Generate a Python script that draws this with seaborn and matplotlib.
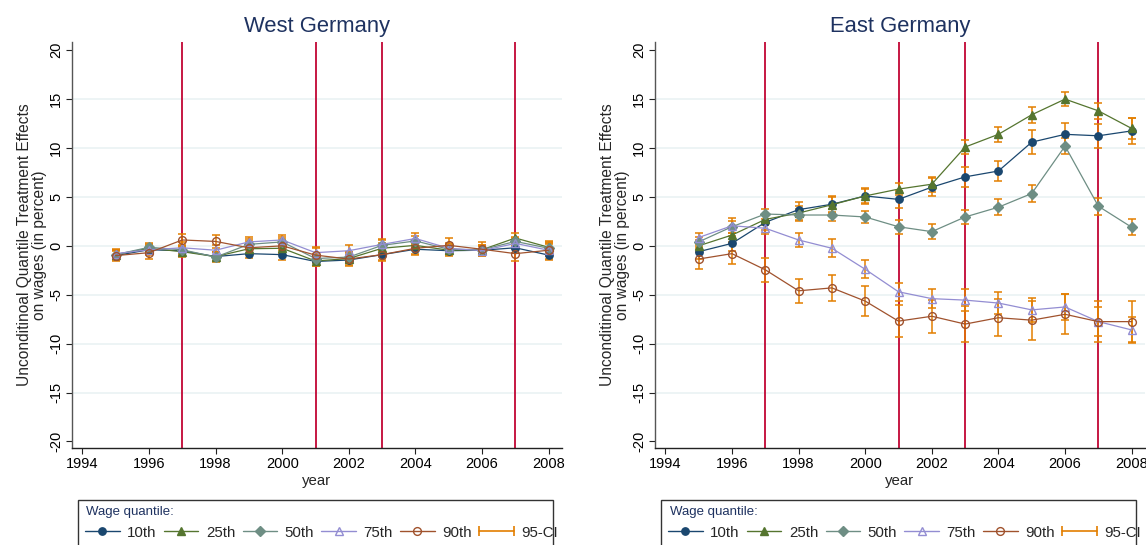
import matplotlib
matplotlib.use("Agg")
import matplotlib.pyplot as plt
import pandas as pd
import seaborn as sns
from matplotlib.lines import Line2D
from matplotlib.patches import Rectangle
from matplotlib.legend_handler import HandlerLine2D

# ---------------------------------------------------------------- data
years = list(range(1995, 2009))
quantiles = ["10th", "25th", "50th", "75th", "90th"]
reform_years = [1997, 2001, 2003, 2007]
x_ticks = list(range(1994, 2009, 2))
y_ticks = list(range(-20, 21, 5))

west_q10 = [-1.0, -0.4, -0.5, -1.1, -0.8, -0.9, -1.6, -1.45, -0.9, -0.35, -0.5, -0.45, -0.2, -0.95]
west_q25 = [-0.9, -0.25, -0.6, -1.1, -0.3, -0.25, -1.55, -1.3, -0.25, 0.05, -0.45, -0.4, 0.8, -0.15]
west_q50 = [-0.9, -0.15, -0.4, -1.15, 0.15, 0.4, -1.3, -1.15, 0.05, 0.5, -0.35, -0.4, 0.45, -0.25]
west_q75 = [-0.8, -0.4, -0.2, -0.45, 0.4, 0.6, -0.7, -0.5, 0.15, 0.75, -0.25, -0.5, 0.25, -0.45]
west_q90 = [-1.0, -0.7, 0.6, 0.45, -0.2, 0.0, -0.95, -1.35, -0.9, -0.25, 0.05, -0.35, -0.8, -0.45]

west_ci10 = [0.45, 0.4, 0.45, 0.5, 0.45, 0.5, 0.5, 0.5, 0.5, 0.5, 0.5, 0.45, 0.5, 0.55]
west_ci25 = [0.45, 0.45, 0.5, 0.5, 0.5, 0.5, 0.5, 0.5, 0.5, 0.5, 0.5, 0.45, 0.5, 0.5]
west_ci50 = [0.45, 0.45, 0.5, 0.5, 0.5, 0.5, 0.5, 0.5, 0.5, 0.5, 0.5, 0.45, 0.5, 0.5]
west_ci75 = [0.5, 0.5, 0.55, 0.55, 0.55, 0.55, 0.55, 0.55, 0.55, 0.55, 0.55, 0.5, 0.55, 0.6]
west_ci90 = [0.55, 0.6, 0.65, 0.65, 0.65, 0.7, 0.75, 0.7, 0.7, 0.7, 0.75, 0.7, 0.75, 0.9]

east_q10 = [-0.6, 0.25, 2.4, 3.7, 4.25, 5.1, 4.75, 6.0, 7.05, 7.65, 10.6, 11.4, 11.25, 11.75]
east_q25 = [0.0, 1.1, 2.7, 3.35, 4.2, 5.1, 5.8, 6.3, 10.1, 11.4, 13.4, 15.0, 13.8, 12.0]
east_q50 = [0.4, 1.95, 3.25, 3.15, 3.15, 2.95, 1.95, 1.45, 2.95, 3.95, 5.35, 10.2, 4.05, 1.9]
east_q75 = [0.85, 2.05, 1.8, 0.6, -0.25, -2.4, -4.7, -5.4, -5.55, -5.85, -6.55, -6.25, -7.75, -8.6]
east_q90 = [-1.35, -0.8, -2.45, -4.6, -4.3, -5.65, -7.7, -7.2, -8.0, -7.35, -7.6, -7.0, -7.75, -7.75]

east_ci10 = [0.7, 0.8, 0.75, 0.75, 0.8, 0.85, 0.85, 0.95, 1.0, 1.05, 1.25, 1.2, 1.25, 1.35]
east_ci25 = [0.6, 0.7, 0.6, 0.7, 0.8, 0.75, 0.6, 0.75, 0.75, 0.75, 0.8, 0.75, 0.8, 1.1]
east_ci50 = [0.5, 0.6, 0.5, 0.6, 0.6, 0.6, 0.7, 0.75, 0.7, 0.8, 0.85, 0.85, 0.85, 0.8]
east_ci75 = [0.5, 0.75, 0.6, 0.75, 0.9, 0.9, 0.95, 1.0, 1.1, 1.1, 1.2, 1.3, 1.5, 1.3]
east_ci90 = [1.0, 1.1, 1.2, 1.25, 1.35, 1.5, 1.6, 1.7, 1.8, 1.9, 2.0, 2.05, 2.1, 2.1]


def long_frame(values, halves):
    rows = []
    for q, vals, hw in zip(quantiles, values, halves):
        for yr, v, h in zip(years, vals, hw):
            rows.append({"year": yr, "quantile": q, "effect": v, "half": h})
    return pd.DataFrame(rows)


west = long_frame([west_q10, west_q25, west_q50, west_q75, west_q90],
                  [west_ci10, west_ci25, west_ci50, west_ci75, west_ci90])
east = long_frame([east_q10, east_q25, east_q50, east_q75, east_q90],
                  [east_ci10, east_ci25, east_ci50, east_ci75, east_ci90])

# ---------------------------------------------------------------- style
sns.set_theme(style="white")
plt.rcParams["font.family"] = ["Liberation Sans", "DejaVu Sans"]
plt.rcParams["axes.unicode_minus"] = False

NAVY = "#1a476f"
FOREST = "#55752f"
TEAL = "#6e8e84"
LAVENDER = "#938dd2"
SIENNA = "#a0522d"
ORANGE = "#e37e00"
CRANBERRY = "#c10534"
HEAD = "#1e3260"
GRID = "#eaf2f3"

styles = {
    "10th": dict(color=NAVY, marker="o", ms=5.3, mfc=NAVY),
    "25th": dict(color=FOREST, marker="^", ms=6.0, mfc=FOREST),
    "50th": dict(color=TEAL, marker="D", ms=4.9, mfc=TEAL),
    "75th": dict(color=LAVENDER, marker="^", ms=6.0, mfc="none"),
    "90th": dict(color=SIENNA, marker="o", ms=5.6, mfc="none"),
}

W, H = 1146, 545
fig = plt.figure(figsize=(W / 100, H / 100), dpi=100)


def fx(px):
    return px / W


def fy(py):
    return 1 - py / H


AX_TOP, AX_BOT = 41.7, 448.0
AX_W = 490.0
panels = [(72.0, "West Germany", west), (655.0, "East Germany", east)]

for left, title, df in panels:
    ax = fig.add_axes([fx(left), fy(AX_BOT), AX_W / W, (AX_BOT - AX_TOP) / H])
    for yr in reform_years:
        ax.axvline(yr, color=CRANBERRY, lw=1.3, zorder=1)
    for q in quantiles:
        sub = df[df["quantile"] == q]
        st = styles[q]
        ax.errorbar(sub["year"], sub["effect"], yerr=sub["half"], fmt="none",
                    ecolor=ORANGE, elinewidth=1.1, capsize=2.9, capthick=1.1,
                    zorder=2)
        sns.lineplot(data=sub, x="year", y="effect", ax=ax, color=st["color"],
                     marker=st["marker"], markersize=st["ms"],
                     markerfacecolor=st["mfc"], markeredgecolor=st["color"],
                     markeredgewidth=1.0, linewidth=0.9, errorbar=None,
                     legend=False, zorder=3)

    ax.set_xlim(1993.69, 2008.4)
    ax.set_ylim(-20.67, 20.87)
    ax.set_xticks(x_ticks)
    ax.set_yticks(y_ticks)
    ax.grid(axis="y", color=GRID, lw=1.2, zorder=0)
    ax.yaxis.get_gridlines()[0].set_visible(False)
    ax.yaxis.get_gridlines()[-1].set_visible(False)
    ax.set_axisbelow(True)
    for side in ("top", "right"):
        ax.spines[side].set_visible(False)
    ax.spines["left"].set_color("#555555")
    ax.spines["bottom"].set_color("#222222")
    ax.spines["left"].set_linewidth(1.0)
    ax.spines["bottom"].set_linewidth(1.0)
    ax.tick_params(axis="both", direction="out", length=4, width=0.8,
                   labelsize=10.5, pad=2.5, colors="#222222",
                   labelcolor="black", bottom=True, left=True)
    ax.tick_params(axis="y", labelrotation=90)
    for lab in ax.get_yticklabels():
        lab.set_va("center")
    ax.set_xlabel("year", fontsize=10.8, labelpad=2)
    ax.set_ylabel("Unconditinoal Quantile Treatment Effects\non wages (in percent)",
                  fontsize=11.2, linespacing=1.0)
    ax.yaxis.set_label_coords(-25 / AX_W, 0.5)
    ax.set_title(title, fontsize=15.8, color=HEAD, pad=7)

    # legend frame (open at the bottom edge of the figure)
    lx0 = left + 6
    fig.add_artist(Rectangle((fx(lx0), fy(560)), 475 / W, 60 / H,
                             transform=fig.transFigure, fill=False,
                             edgecolor="#333333", lw=1.0, clip_on=False))
    fig.text(fx(lx0 + 8.5), fy(511.7), "Wage quantile:", fontsize=9.5,
             color=HEAD, va="center", ha="left")

    handles = []
    for q in quantiles:
        st = styles[q]
        handles.append(Line2D([], [], color=st["color"], marker=st["marker"],
                              markersize=st["ms"], markerfacecolor=st["mfc"],
                              markeredgecolor=st["color"], markeredgewidth=1.0,
                              lw=1.0, label=q))
    ci_handle = Line2D([], [], color=ORANGE, marker="|", markersize=7,
                       markeredgewidth=1.2, lw=1.2, label="95-CI")
    handles.append(ci_handle)
    fig.legend(handles=handles, loc="center left",
               bbox_to_anchor=(fx(lx0 + 7), fy(532.7)),
               bbox_transform=fig.transFigure, ncol=6, frameon=False,
               fontsize=10.8, handlelength=2.3, handletextpad=0.5,
               columnspacing=0.49, borderpad=0, borderaxespad=0,
               handler_map={ci_handle: HandlerLine2D(numpoints=2, marker_pad=0)})

fig.savefig("out.png", dpi=100)
